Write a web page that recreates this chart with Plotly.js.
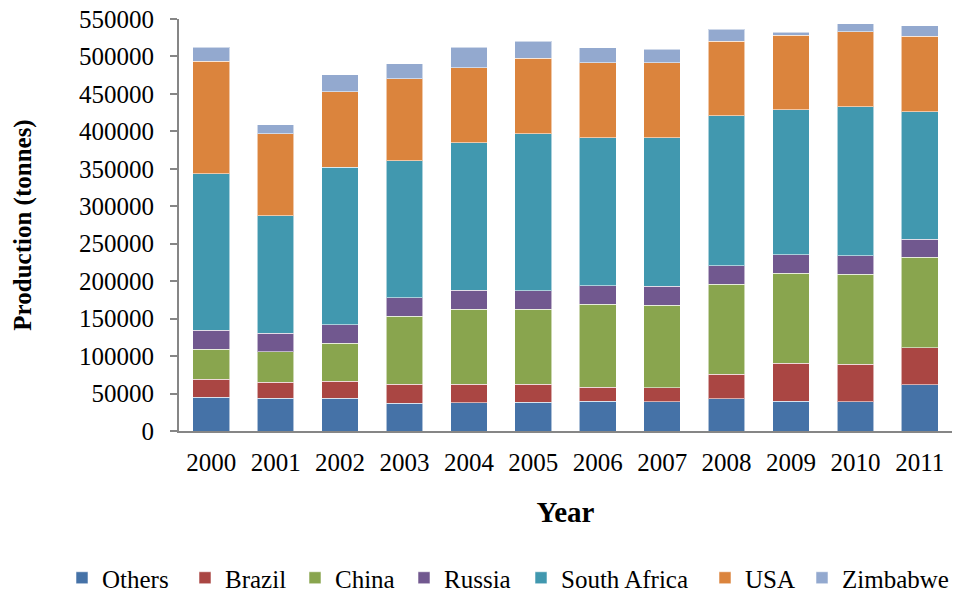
<!DOCTYPE html>
<html>
<head>
<meta charset="utf-8">
<script src="https://cdn.plot.ly/plotly-3.0.1.min.js"></script>
<style>html,body{margin:0;padding:0;background:#fff;}#chart{width:958px;height:591px;}</style>
</head>
<body>
<div id="chart"></div>
<script>
const years = ['2000','2001','2002','2003','2004','2005','2006','2007','2008','2009','2010','2011'];
const others      = [45000, 43800, 43800, 37100, 37700, 38500, 39400, 39000, 43000, 39400, 39000, 61700];
const brazil      = [24000, 21400, 22700, 25400, 24800, 24000, 19100, 18700, 32900, 50800, 49800, 49400];
const china       = [40000, 40600, 50400, 90500, 100200, 100200, 110500, 110400, 119800, 120200, 120300, 120700];
const russia      = [25500, 24900, 25000, 25000, 25400, 24600, 25000, 25000, 25000, 25000, 25000, 24500];
const southAfrica = [209000, 156800, 210500, 182500, 196400, 209700, 197700, 198600, 200400, 193700, 199000, 170100];
const usa         = [150000, 109000, 100200, 109500, 100200, 100300, 99700, 99700, 98900, 99300, 100200, 100300];
const zimbabwe    = [19000, 12600, 23300, 20600, 27300, 23100, 20100, 17900, 16400, 3600, 10200, 14600];
const yTicks = [0, 50000, 100000, 150000, 200000, 250000, 300000, 350000, 400000, 450000, 500000, 550000];

const series = [
  ['Others', others, '#4572A7'],
  ['Brazil', brazil, '#AA4643'],
  ['China', china, '#89A54E'],
  ['Russia', russia, '#71588F'],
  ['South Africa', southAfrica, '#4198AF'],
  ['USA', usa, '#DB843D'],
  ['Zimbabwe', zimbabwe, '#93A9CF']
];
// left edge (px) of each legend entry box, one legend per series
const legendLeft = [62, 185, 295, 404, 521, 705, 802];

const font = 'Liberation Serif, Times New Roman, serif';

const traces = series.map(([name, vals, color], i) => ({
  type: 'bar', name: name, x: years, y: vals,
  legend: i === 0 ? 'legend' : 'legend' + (i + 1),
  marker: {color: color, line: {color: 'rgba(255,255,255,0.55)', width: 1}},
  hoverinfo: 'x+y+name'
}));

const layout = {
  width: 958, height: 591,
  barmode: 'stack', bargap: 0.43,
  paper_bgcolor: '#fff', plot_bgcolor: '#fff',
  margin: {l: 179, r: 6, t: 19, b: 160, autoexpand: false},
  font: {family: font, size: 25, color: '#000'},
  showlegend: true,
  xaxis: {
    type: 'category', showline: true, linecolor: '#868686', linewidth: 2,
    ticks: '', showgrid: false, zeroline: false, ticklabelstandoff: 8,
    tickfont: {family: font, size: 25},
    title: {text: '<b>Year</b>', font: {family: font, size: 29}, standoff: 27},
    automargin: false
  },
  yaxis: {
    range: [0, 550000], tickvals: yTicks, ticktext: yTicks.map(String),
    showline: true, linecolor: '#868686', linewidth: 2,
    ticks: 'outside', ticklen: 7, tickcolor: '#868686', tickwidth: 2,
    showgrid: false, zeroline: false, ticklabelstandoff: 11,
    tickfont: {family: font, size: 25},
    title: {text: '<b>Production (tonnes)</b>', font: {family: font, size: 25}, standoff: 40},
    automargin: false
  }
};
legendLeft.forEach((px, i) => {
  const key = i === 0 ? 'legend' : 'legend' + (i + 1);
  layout[key] = {
    orientation: 'h', xref: 'container', yref: 'container',
    x: px / 958, xanchor: 'left', y: 1 - 578 / 591, yanchor: 'middle',
    font: {family: font, size: 25, color: '#000'}, itemwidth: 30,
    bgcolor: 'rgba(0,0,0,0)', borderwidth: 0
  };
});
Plotly.newPlot('chart', traces, layout, {displayModeBar: false, staticPlot: true});
</script>
</body>
</html>
